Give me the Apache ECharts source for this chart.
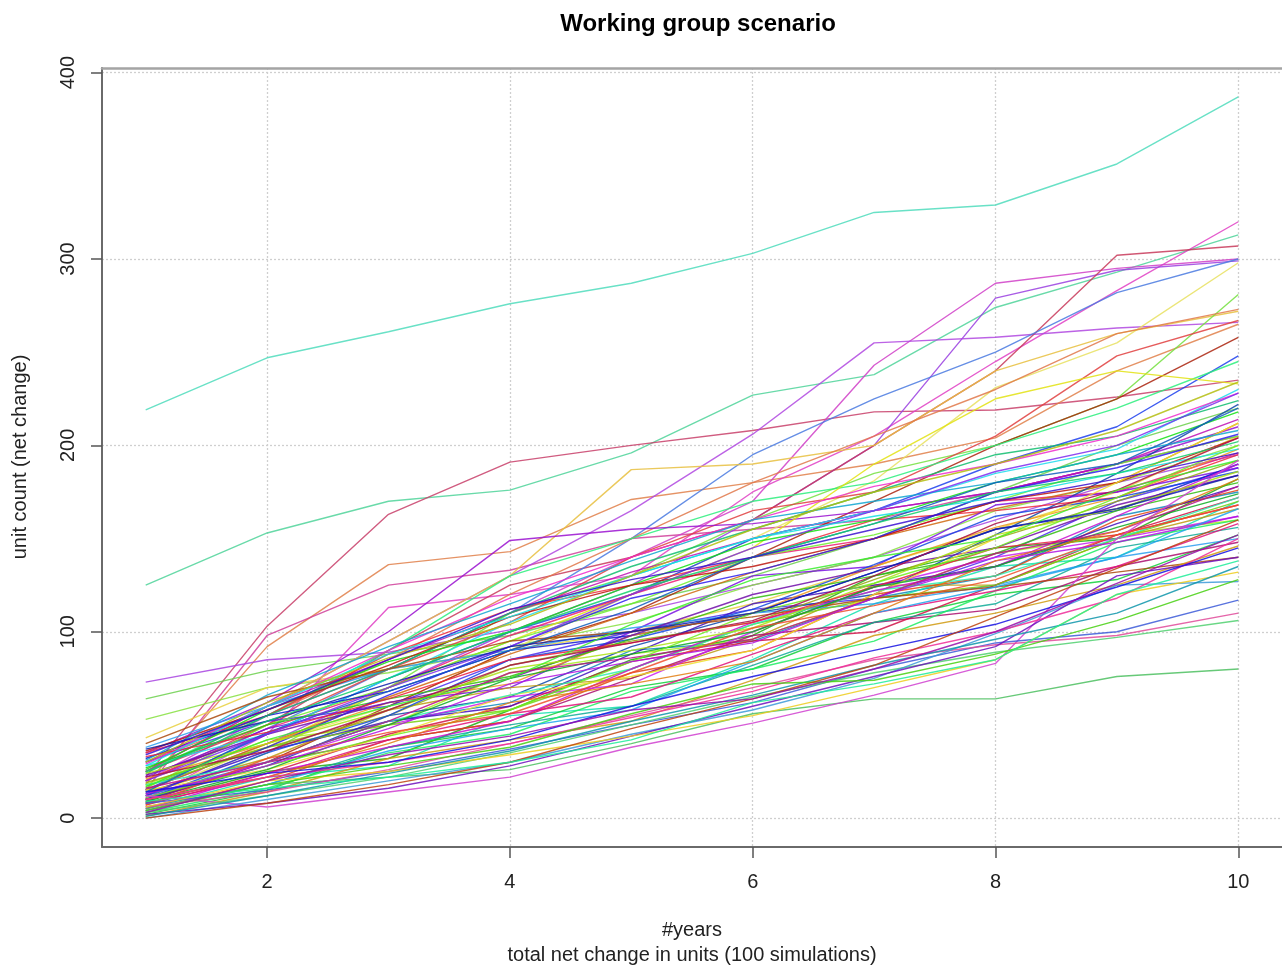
<!DOCTYPE html>
<html>
<head>
<meta charset="utf-8">
<script src="https://cdn.jsdelivr.net/npm/echarts@6/dist/echarts.min.js"></script>
<style>
html,body{margin:0;padding:0;background:#fff;}
#chart{width:1282px;height:969px;}
</style>
</head>
<body>
<div id="chart"></div>
<script>
// ---- data ----
const years = [1,2,3,4,5,6,7,8,9,10];
const xTicks = [2,4,6,8,10];
const yTicks = [0,100,200,300,400];

const s001=[219,247,261,276,287,303,325,329,351,387];
const s002=[125,153,170,176,196,227,238,274,293,313];
const s003=[22,103,163,191,200,208,218,219,226,235];
const s004=[18,92,136,143,171,180,190,204,240,265];
const s005=[15,98,125,133,150,155,160,175,190,205];
const s006=[73,85,89,101,110,125,140,160,180,195];
const s007=[64,79,88,98,115,130,150,175,200,220];
const s008=[53,70,78,92,105,125,140,165,180,200];
const s009=[43,70,80,90,100,115,135,155,175,205];
const s010=[10,45,113,120,130,175,205,245,283,320];
const s011=[20,55,80,110,140,170,243,287,295,300];
const s012=[15,40,70,100,125,160,200,279,294,299];
const s013=[30,60,95,130,165,206,255,258,263,266];
const s014=[25,50,90,125,140,160,200,240,302,307];
const s015=[12,40,60,90,120,150,181,231,255,298];
const s016=[20,48,80,110,150,195,225,250,282,300];
const s017=[25,60,95,130,187,190,200,240,260,272];
const s018=[8,35,70,110,130,160,185,200,225,281];
const s019=[30,55,85,120,150,180,205,230,260,273];
const s020=[20,50,80,105,140,165,175,205,248,267];
const s021=[15,45,75,100,120,150,165,190,210,248];
const s022=[10,30,60,90,110,140,170,200,225,258];
const s023=[25,55,90,130,150,170,180,200,220,245];
const s024=[35,62,100,149,155,158,165,175,190,210];
const s025=[12,38,70,95,120,145,190,225,240,233];
const s026=[12,30,52,62,90,95,118,130,162,175];
const s027=[20,48,70,98,120,140,150,170,175,196];
const s028=[8,25,32,58,85,98,130,145,150,182];
const s029=[30,52,60,85,100,112,118,140,170,188];
const s030=[15,40,65,88,110,132,150,166,180,212];
const s031=[5,22,28,55,60,85,115,135,140,170];
const s032=[25,60,85,110,132,150,165,175,190,214];
const s033=[18,42,50,78,88,96,118,142,152,160];
const s034=[10,28,55,65,92,110,120,152,185,222];
const s035=[35,55,88,112,125,140,160,165,172,195];
const s036=[2,15,38,48,70,80,105,120,128,152];
const s037=[22,48,62,70,100,130,135,168,175,188];
const s038=[14,32,58,70,75,96,125,125,150,166];
const s039=[28,45,75,105,130,150,165,185,198,230];
const s040=[9,30,42,52,75,98,105,112,135,148];
const s041=[16,50,70,95,115,140,152,170,190,205];
const s042=[32,55,68,90,98,110,132,155,165,190];
const s043=[4,20,42,52,78,90,120,130,160,176];
const s044=[24,55,80,110,135,155,175,195,205,224];
const s045=[11,30,50,65,72,100,124,140,150,162];
const s046=[19,38,55,82,95,105,128,150,170,192];
const s047=[38,60,80,90,102,110,115,125,140,150];
const s048=[7,24,45,60,84,95,100,125,152,172];
const s049=[26,58,84,100,125,148,160,180,195,218];
const s050=[13,36,52,60,88,115,125,135,158,178];
const s051=[21,40,62,72,98,110,135,156,172,198];
const s052=[6,18,38,50,60,82,105,115,145,156];
const s053=[29,60,90,118,140,160,178,190,205,228];
const s054=[17,38,50,58,80,104,118,125,150,170];
const s055=[10,35,55,85,96,112,136,162,172,186];
const s056=[36,58,82,108,125,135,150,170,180,204];
const s057=[3,16,35,45,68,80,95,122,148,160];
const s058=[23,45,62,75,98,120,134,145,168,184];
const s059=[15,26,44,66,76,90,120,150,180,212];
const s060=[31,66,92,115,138,160,170,180,195,208];
const s061=[8,22,42,56,65,88,110,122,135,158];
const s062=[27,50,64,76,96,118,130,142,165,180];
const s063=[12,38,66,92,118,132,150,175,188,206];
const s064=[40,65,80,95,100,108,118,124,132,140];
const s065=[18,30,52,66,80,104,122,130,150,172];
const s066=[5,24,38,52,80,105,122,135,162,190];
const s067=[24,40,58,80,90,102,126,152,166,186];
const s068=[14,46,68,90,112,140,158,180,190,220];
const s069=[33,46,64,85,94,105,124,145,152,168];
const s070=[9,26,50,75,88,100,124,135,156,174];
const s071=[20,45,70,92,120,145,165,186,200,228];
const s072=[1,14,32,42,52,74,98,110,125,146];
const s073=[28,60,88,108,130,150,162,172,185,198];
const s074=[16,30,52,78,86,96,118,142,154,178];
const s075=[11,28,44,58,84,110,126,145,172,200];
const s076=[37,52,72,92,100,110,132,155,166,184];
const s077=[7,32,46,56,78,102,114,128,152,168];
const s078=[25,52,75,100,122,140,158,175,185,202];
const s079=[13,28,48,72,84,94,118,138,148,162];
const s080=[30,62,86,104,130,155,175,190,208,234];
const s081=[4,18,36,48,58,84,110,124,140,166];
const s082=[22,36,58,82,94,106,130,158,176,204];
const s083=[17,42,60,75,104,128,140,150,176,192];
const s084=[34,58,85,112,128,140,155,170,182,196];
const s085=[10,22,40,62,72,84,110,138,154,182];
const s086=[5,18,22,26,40,56,64,64,76,80];
const s087=[12,6,14,22,38,51,66,83,150,192];
const s088=[8,15,25,37,50,62,80,94,100,117];
const s089=[3,12,22,35,50,65,78,89,97,106];
const s090=[6,14,26,40,55,70,85,93,98,110];
const s091=[0,10,20,30,45,58,75,99,125,127];
const s092=[2,8,16,28,44,60,76,92,130,140];
const s093=[6,20,25,34,44,55,70,85,120,132];
const s094=[1,12,24,36,52,66,82,96,110,135];
const s095=[10,22,30,40,54,68,86,100,118,150];
const s096=[4,18,28,38,56,72,74,88,106,128];
const s097=[14,24,30,42,60,76,90,104,124,145];
const s098=[0,8,18,30,48,64,82,108,134,160];
const s099=[9,16,22,30,42,62,72,85,120,138];
const s100=[3,20,34,44,58,64,80,100,126,152];

const simulations=[s001,s002,s003,s004,s005,s006,s007,s008,s009,s010,s011,s012,s013,s014,s015,s016,s017,s018,s019,s020,
s021,s022,s023,s024,s025,s026,s027,s028,s029,s030,s031,s032,s033,s034,s035,s036,s037,s038,s039,s040,
s041,s042,s043,s044,s045,s046,s047,s048,s049,s050,s051,s052,s053,s054,s055,s056,s057,s058,s059,s060,
s061,s062,s063,s064,s065,s066,s067,s068,s069,s070,s071,s072,s073,s074,s075,s076,s077,s078,s079,s080,
s081,s082,s083,s084,s085,s086,s087,s088,s089,s090,s091,s092,s093,s094,s095,s096,s097,s098,s099,s100];

// ---- style ----
const fixedColors = {0:'#4fdcbc',1:'#4fd49a',2:'#c8406a',3:'#e0804a',4:'#d0409a',5:'#a844e0',6:'#6cd04c',
  7:'#86e040',8:'#e8d040',9:'#e040c4',10:'#d040c8',11:'#9a40e0',12:'#b048e0',13:'#c83a5a',14:'#e8e060',
  15:'#4a7ae0',16:'#e8c040',17:'#74e040',18:'#e0784a',19:'#e04040',85:'#4cc060',86:'#d040d0',87:'#3c5ad8',
  88:'#50d070',89:'#e04a9a',90:'#3c9ad8'};
const lights=[48,40,52,36,55,44];
function colorOf(i){
  if(fixedColors[i]) return fixedColors[i];
  const h=(i*137.508)%360;
  return 'hsl('+h.toFixed(0)+',85%,'+lights[i%lights.length]+'%)';
}
const FONT='"Liberation Sans", Arial, sans-serif';

const series = simulations.map((vals,i)=>({
  type:'line',
  data: years.map((y,k)=>[y,vals[k]]),
  symbol:'none',
  silent:true,
  lineStyle:{width:1.4,color:colorOf(i),opacity:0.85},
  z:3
}));

const chart = echarts.init(document.getElementById('chart'),null,{renderer:'canvas'});
chart.setOption({
  animation:false,
  backgroundColor:'#ffffff',
  title:{text:'Working group scenario',left:693,top:7,textAlign:'center',
    textStyle:{fontFamily:FONT,fontWeight:'bold',fontSize:24,color:'#000'}},
  grid:{left:102,right:-2,top:68,bottom:122,containLabel:false},
  xAxis:[{
    type:'value',min:0.64,max:10.36,
    axisLine:{show:true,onZero:false,lineStyle:{color:'#6a6a6a',width:2}},
    axisTick:{show:true,customValues:xTicks,length:11,lineStyle:{color:'#555',width:1.5}},
    axisLabel:{show:true,customValues:xTicks,margin:25,fontFamily:FONT,fontSize:20,color:'#222'},
    splitLine:{show:true,lineStyle:{color:'#cfcfcf',type:[2,2],width:1.3}}
  },{
    type:'value',min:0.64,max:10.36,position:'top',
    axisLine:{show:true,onZero:false,lineStyle:{color:'#a4a4a4',width:2.5}},
    axisTick:{show:false},axisLabel:{show:false},splitLine:{show:false}
  }],
  yAxis:{
    type:'value',min:-15.5,max:402.5,
    axisLine:{show:true,onZero:false,lineStyle:{color:'#6a6a6a',width:2}},
    axisTick:{show:true,customValues:yTicks,length:11,lineStyle:{color:'#555',width:1.5}},
    axisLabel:{show:true,customValues:yTicks,rotate:90,margin:24,fontFamily:FONT,fontSize:20,color:'#222'},
    splitLine:{show:true,lineStyle:{color:'#cfcfcf',type:[2,2],width:1.3}}
  },
  graphic:[
    {type:'text',style:{text:'#years',font:'20px '+FONT,fill:'#222',textAlign:'center',textVerticalAlign:'middle'},x:692,y:930},
    {type:'text',style:{text:'total net change in units (100 simulations)',font:'20px '+FONT,fill:'#222',textAlign:'center',textVerticalAlign:'middle'},x:692,y:955},
    {type:'text',style:{text:'unit count (net change)',font:'20px '+FONT,fill:'#222',textAlign:'center',textVerticalAlign:'middle'},x:20,y:457,rotation:Math.PI/2}
  ],
  series:series
});
</script>
</body>
</html>
